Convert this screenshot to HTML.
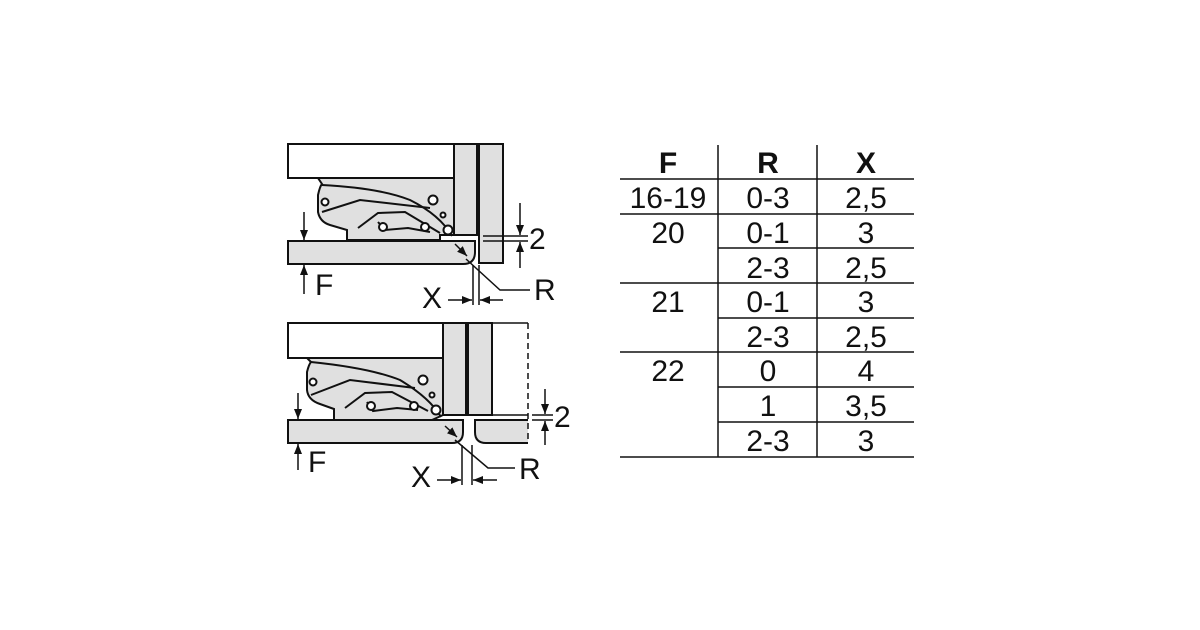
<!DOCTYPE html>
<html><head><meta charset="utf-8"><style>
html,body{margin:0;padding:0;background:#fff}
svg{display:block}
text{font-family:"Liberation Sans",Arial,sans-serif;fill:#111}
</style></head><body>
<svg width="1200" height="630" viewBox="0 0 1200 630" xmlns="http://www.w3.org/2000/svg">
<defs>
<marker id="a" viewBox="0 0 10 10" refX="10" refY="5" markerWidth="10" markerHeight="10" markerUnits="userSpaceOnUse" orient="auto"><path d="M0,1 L10,5 L0,9 Z" fill="#111"/></marker>
</defs>
<g stroke="#111" stroke-width="2" fill="#e0e0e0">
<rect x="288" y="144" width="166" height="34" fill="#fff"/>
<rect x="454" y="144" width="23" height="91"/>
<rect x="479" y="144" width="24" height="119"/>
<path d="M318,178 L454,178 L454,235 L440,235 L440,240 L347,240 L347,230 L330,225 Q320,222 318,212 L318,195 Q320,186 322,184 Z"/>
<path d="M288,241 L475,241 L475,252 Q475,264 463,264 L288,264 Z"/>
<g fill="none" stroke-width="2">
<path d="M322,185 Q380,188 410,200 Q440,215 452,236"/>
<path d="M322,212 L360,200 L430,208"/>
<path d="M358,228 L378,213 L405,212 L440,233"/>
<path d="M378,222 L385,230 L408,228 L430,232"/>
</g>
<g fill="#fff" stroke-width="2">
<circle cx="325" cy="202" r="3.5"/><circle cx="433" cy="200" r="4.5"/><circle cx="443" cy="215" r="2.5"/>
<circle cx="383" cy="227" r="4"/><circle cx="425" cy="227" r="4"/><circle cx="448" cy="230" r="4.5"/>
</g>
<rect x="288" y="323" width="155" height="35" fill="#fff"/>
<rect x="443" y="323" width="23" height="92"/>
<rect x="468" y="323" width="24" height="92"/>
<path d="M307,358 L443,358 L443,415 L432,420 L334,420 L334,409 L320,404 Q308,400 307,390 L307,372 Q309,364 311,362 Z"/>
<path d="M288,420 L463,420 L463,432 Q463,443 452,443 L288,443 Z"/>
<path d="M528,420 L475,420 L475,432 Q475,443 486,443 L528,443"/>
<g fill="none" stroke-width="2">
<path d="M311,362 Q370,368 400,380 Q430,398 441,417"/>
<path d="M311,395 L350,380 L415,388"/>
<path d="M345,408 L365,393 L392,392 L428,411"/>
<path d="M367,402 L373,411 L397,408 L418,410"/>
</g>
<g fill="#fff" stroke-width="2">
<circle cx="313" cy="382" r="3.5"/><circle cx="423" cy="380" r="4.5"/><circle cx="432" cy="395" r="2.5"/>
<circle cx="371" cy="406" r="4"/><circle cx="414" cy="406" r="4"/><circle cx="436" cy="410" r="4.5"/>
</g>
</g>
<g stroke="#111" stroke-width="1.5" fill="none">
<line x1="492" y1="323" x2="528" y2="323"/>
<line x1="492" y1="415" x2="528" y2="415"/>
<line x1="528" y1="323" x2="528" y2="443" stroke-dasharray="6,4"/>
<line x1="304" y1="212" x2="304" y2="240" marker-end="url(#a)"/>
<line x1="304" y1="294" x2="304" y2="265" marker-end="url(#a)"/>
<line x1="483" y1="236" x2="528" y2="236"/><line x1="483" y1="241" x2="528" y2="241"/>
<line x1="520" y1="203" x2="520" y2="235" marker-end="url(#a)"/>
<line x1="520" y1="268" x2="520" y2="242" marker-end="url(#a)"/>
<line x1="473" y1="265" x2="473" y2="305"/><line x1="479" y1="265" x2="479" y2="305"/>
<line x1="448" y1="300" x2="472" y2="300" marker-end="url(#a)"/>
<line x1="503" y1="300" x2="480" y2="300" marker-end="url(#a)"/>
<line x1="455" y1="244" x2="467" y2="256" marker-end="url(#a)"/>
<path d="M466,259 L500,290 L530,290"/>
<line x1="298" y1="393" x2="298" y2="419" marker-end="url(#a)"/>
<line x1="298" y1="470" x2="298" y2="444" marker-end="url(#a)"/>
<line x1="532" y1="415" x2="553" y2="415"/><line x1="532" y1="420" x2="553" y2="420"/>
<line x1="545" y1="389" x2="545" y2="414" marker-end="url(#a)"/>
<line x1="545" y1="445" x2="545" y2="421" marker-end="url(#a)"/>
<line x1="462" y1="445" x2="462" y2="485"/><line x1="472" y1="445" x2="472" y2="485"/>
<line x1="437" y1="480" x2="461" y2="480" marker-end="url(#a)"/>
<line x1="497" y1="480" x2="473" y2="480" marker-end="url(#a)"/>
<line x1="445" y1="426" x2="457" y2="437" marker-end="url(#a)"/>
<path d="M455,440 L488,468 L515,468"/>
</g>
<g font-size="30">
<text x="315" y="295">F</text><text x="529" y="249">2</text><text x="422" y="308">X</text><text x="534" y="300">R</text>
<text x="308" y="472">F</text><text x="554" y="427">2</text><text x="411" y="487">X</text><text x="519" y="479">R</text>
</g>
<g stroke="#111" stroke-width="1.5">
<line x1="718" y1="145" x2="718" y2="457"/><line x1="817" y1="145" x2="817" y2="457"/>
<line x1="620" y1="179" x2="914" y2="179"/>
<line x1="620" y1="214" x2="914" y2="214"/>
<line x1="718" y1="248" x2="914" y2="248"/>
<line x1="620" y1="283" x2="914" y2="283"/>
<line x1="718" y1="318" x2="914" y2="318"/>
<line x1="620" y1="352" x2="914" y2="352"/>
<line x1="718" y1="387" x2="914" y2="387"/>
<line x1="718" y1="422" x2="914" y2="422"/>
<line x1="620" y1="457" x2="914" y2="457"/>
</g>
<g font-size="30" text-anchor="middle">
<g font-weight="bold"><text x="668" y="173">F</text><text x="768" y="173">R</text><text x="866" y="173">X</text></g>
<text x="668" y="208">16-19</text><text x="768" y="208">0-3</text><text x="866" y="208">2,5</text>
<text x="668" y="243">20</text><text x="768" y="243">0-1</text><text x="866" y="243">3</text>
<text x="768" y="278">2-3</text><text x="866" y="278">2,5</text>
<text x="668" y="312">21</text><text x="768" y="312">0-1</text><text x="866" y="312">3</text>
<text x="768" y="347">2-3</text><text x="866" y="347">2,5</text>
<text x="668" y="381">22</text><text x="768" y="381">0</text><text x="866" y="381">4</text>
<text x="768" y="416">1</text><text x="866" y="416">3,5</text>
<text x="768" y="451">2-3</text><text x="866" y="451">3</text>
</g>
</svg>
</body></html>
